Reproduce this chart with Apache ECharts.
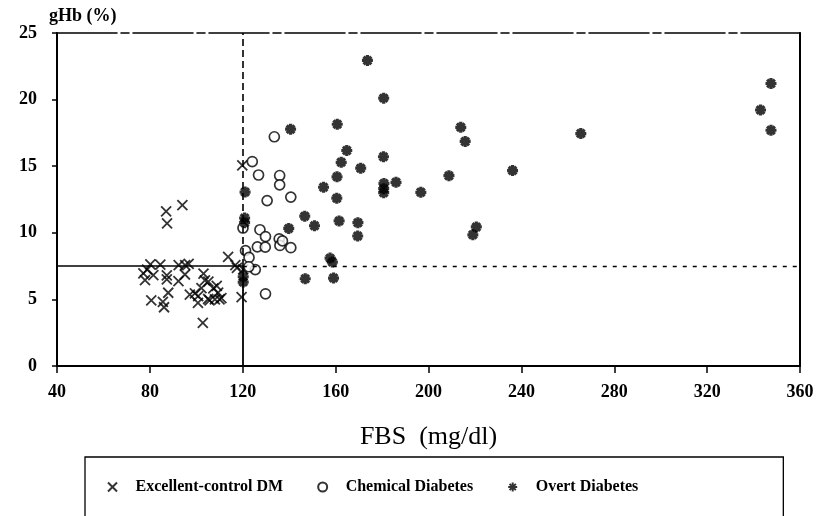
<!DOCTYPE html>
<html>
<head>
<meta charset="utf-8">
<script src="https://cdn.jsdelivr.net/npm/echarts@6/dist/echarts.min.js"></script>
<style>
  html, body { margin: 0; background: #fff; }
  #chart { width: 824px; height: 516px; }
</style>
</head>
<body>
<div id="chart"></div>
<script>
// axis ticks
var xTicks = [40, 80, 120, 160, 200, 240, 280, 320, 360]
var yTicks = [0, 5, 10, 15, 20, 25]

// cut-off lines: FBS 120 mg/dl, gHb 7.5 %
var fbsCut = 120
var ghbCut = 7.5

// [FBS, gHb]
var excellentDM = [
  [77.2, 6.95], [77.9, 6.44], [78.8, 7.24], [80.2, 7.63], [81.5, 6.83], [80.6, 4.93],
  [84.5, 7.61], [85.6, 4.81], [86.1, 4.41], [87.0, 11.6], [87.4, 10.7], [87.3, 6.5],
  [87.3, 6.8], [87.9, 5.5], [92.4, 7.58], [92.3, 6.38], [94.0, 12.08], [95.1, 6.87],
  [95.2, 7.57], [96.7, 7.66], [97.2, 5.36], [99.4, 5.45], [100.7, 4.74], [100.8, 5.24],
  [102.2, 5.84], [103.1, 6.94], [102.8, 3.24], [103.7, 6.43], [105.2, 6.33], [105.1, 5.03],
  [105.7, 4.92], [107.3, 5.82], [108.8, 6.01], [109.4, 5.51], [108.0, 5.01], [110.0, 5.0],
  [110.8, 5.1], [113.7, 8.19], [116.8, 7.58], [117.5, 7.37], [119.8, 15.07], [119.5, 5.17],
  [120.2, 7.25]
]

var chemicalDiabetes = [
  [120.1, 10.36], [121.2, 8.66], [122.7, 8.15], [124.1, 15.35], [125.4, 7.24], [126.8, 14.34],
  [126.3, 8.94], [127.4, 10.23], [129.8, 9.72], [129.7, 8.92], [130.5, 12.42], [129.8, 5.42],
  [133.6, 17.21], [135.9, 14.3], [135.9, 13.6], [135.7, 9.55], [136.0, 9.05], [137.1, 9.39],
  [140.7, 12.68], [140.7, 8.88], [122.6, 7.45]
]

var overtDiabetes = [
  [121.0, 13.06], [120.8, 11.11], [120.8, 10.76], [120.2, 6.7], [120.2, 6.3], [140.6, 17.78],
  [139.8, 10.33], [146.7, 11.25], [146.9, 6.55], [150.9, 10.53], [154.8, 13.42], [157.6, 8.1],
  [158.6, 7.8], [159.1, 6.6], [160.7, 18.15], [160.6, 14.2], [160.5, 12.6], [161.5, 10.89],
  [162.4, 15.29], [164.8, 16.18], [169.6, 10.76], [169.5, 9.76], [170.8, 14.85], [173.7, 22.94],
  [180.7, 20.11], [180.6, 15.71], [180.8, 13.71], [180.7, 13.31], [180.7, 13.01], [186.0, 13.79],
  [196.7, 13.04], [208.8, 14.29], [213.9, 17.92], [215.8, 16.86], [219.1, 9.85], [220.6, 10.44],
  [236.2, 14.67], [265.6, 17.45], [343.0, 19.22], [347.5, 21.21], [347.5, 17.7]
]

var xMin = xTicks[0], xMax = xTicks[xTicks.length - 1]
var yMin = yTicks[0], yMax = yTicks[yTicks.length - 1]

var tickFont = { color: '#000', fontFamily: 'Liberation Serif', fontWeight: 'bold', fontSize: 18 }
var ink = '#000'

var crossSymbol = 'path://M0,0L10,10M10,0L0,10'
var starSymbol = 'path://M5,0L5,10M0,5L10,5M1.5,1.5L8.5,8.5M8.5,1.5L1.5,8.5'

var chart = echarts.init(document.getElementById('chart'))

var option = {
  animation: false,
  grid: { left: 57, right: 24, top: 33, bottom: 150 },
  legend: {
    left: 85,
    top: 457,
    padding: [22, 145, 30, 22],
    borderColor: ink,
    borderWidth: 1.3,
    itemGap: 34,
    itemWidth: 36,
    itemHeight: 9,
    textStyle: { color: ink, fontFamily: 'Liberation Serif', fontWeight: 'bold', fontSize: 16 },
    data: ['Excellent-control DM', 'Chemical Diabetes', 'Overt Diabetes']
  },
  xAxis: [{
    type: 'value',
    min: xMin, max: xMax, interval: 40,
    name: 'FBS  (mg/dl)',
    nameLocation: 'middle',
    nameGap: 58,
    nameTextStyle: { color: ink, fontFamily: 'Liberation Serif', fontSize: 26 },
    splitLine: { show: false },
    axisLine: { lineStyle: { color: ink, width: 2 } },
    axisTick: { length: 7, lineStyle: { color: ink, width: 1.5 } },
    axisLabel: Object.assign({ margin: 17 }, tickFont)
  }, {
    type: 'value',
    position: 'top',
    min: xMin, max: xMax,
    splitLine: { show: false },
    axisTick: { show: false },
    axisLabel: { show: false },
    axisLine: { onZero: false, lineStyle: { color: ink, width: 1.5, type: [60, 4, 8, 4] } }
  }],
  yAxis: [{
    type: 'value',
    min: yMin, max: yMax, interval: 5,
    name: 'gHb (%)',
    nameLocation: 'end',
    nameGap: 8,
    nameTextStyle: { color: ink, fontFamily: 'Liberation Serif', fontWeight: 'bold', fontSize: 18, align: 'left', padding: [0, 0, 0, -8] },
    splitLine: { show: false },
    axisLine: { lineStyle: { color: ink, width: 2 } },
    axisTick: { length: 5, lineStyle: { color: ink, width: 1.5 } },
    axisLabel: Object.assign({ margin: 20 }, tickFont)
  }, {
    type: 'value',
    position: 'right',
    min: yMin, max: yMax,
    splitLine: { show: false },
    axisTick: { show: false },
    axisLabel: { show: false },
    axisLine: { onZero: false, lineStyle: { color: ink, width: 2 } }
  }],
  series: [{
    name: 'Excellent-control DM',
    type: 'scatter',
    symbol: crossSymbol,
    symbolSize: 10,
    itemStyle: { color: 'rgba(0,0,0,0)', borderColor: ink, borderWidth: 1.8 },
    data: excellentDM,
    markLine: {
      silent: true,
      symbol: 'none',
      label: { show: false },
      data: [
        [{ coord: [xMin, ghbCut], lineStyle: { type: 'solid', width: 1.6, color: ink } }, { coord: [fbsCut, ghbCut] }],
        [{ coord: [fbsCut, ghbCut], lineStyle: { type: [4, 6], width: 1.4, color: ink } }, { coord: [xMax, ghbCut] }],
        [{ coord: [fbsCut, yMin], lineStyle: { type: 'solid', width: 1.8, color: ink } }, { coord: [fbsCut, ghbCut] }],
        [{ coord: [fbsCut, ghbCut], lineStyle: { type: [7, 4], width: 1.6, color: ink } }, { coord: [fbsCut, yMax] }]
      ]
    }
  }, {
    name: 'Chemical Diabetes',
    type: 'scatter',
    symbol: 'circle',
    symbolSize: 10,
    itemStyle: { color: '#fff', borderColor: ink, borderWidth: 1.7 },
    data: chemicalDiabetes
  }, {
    name: 'Overt Diabetes',
    type: 'scatter',
    symbol: starSymbol,
    symbolSize: 11,
    itemStyle: { color: 'rgba(0,0,0,0)', borderColor: ink, borderWidth: 3.2 },
    data: overtDiabetes
  }]
}

chart.setOption(option)
</script>
</body>
</html>
